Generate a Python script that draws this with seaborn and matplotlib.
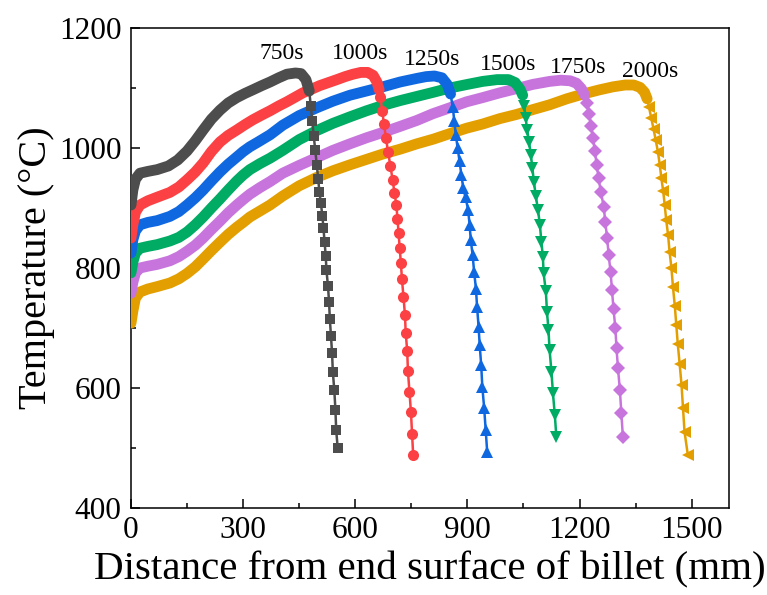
import matplotlib
matplotlib.use("Agg")
import matplotlib.pyplot as plt
import seaborn as sns
import pandas as pd
from matplotlib.ticker import MultipleLocator

# ---------------- data ----------------
times = ["750s", "1000s", "1250s", "1500s", "1750s", "2000s"]

# label anchor positions (distance mm, temperature C)
label_d = [404, 612, 805, 1008, 1195, 1388]
label_t = [1157, 1157, 1147, 1140, 1134, 1127]

# 750 s
heat_750_d = [0, 5, 12, 24, 45, 70, 100, 125, 150, 172, 193, 215, 238, 260, 283, 305, 326, 350,
              372, 395, 417, 440, 455, 468, 477]
heat_750_t = [905, 930, 948, 958, 961, 964, 970, 980, 995, 1012, 1030, 1048, 1063, 1075, 1084, 1091,
              1097, 1104, 1110, 1117, 1123, 1125, 1124, 1114, 1095]
drop_750_d = [481, 485, 489, 493, 497, 501, 504, 508, 512, 515, 518, 521, 523, 527, 530, 532,
              535, 538, 540, 544, 547, 549, 553]
drop_750_t = [1070, 1045, 1020, 996, 972, 948, 927, 908, 887, 866, 843, 820, 796, 770, 743, 715,
              687, 658, 627, 596, 563, 530, 500]

# 1000 s
heat_1000_d = [0, 5, 12, 24, 45, 70, 104, 128, 150, 172, 193, 215, 238, 260, 283, 305, 326, 350,
               372, 395, 417, 440, 460, 483, 505, 528, 551, 573, 594, 615, 633, 648, 658, 664]
heat_1000_t = [850, 872, 893, 905, 912, 918, 926, 935, 947, 960, 975, 994, 1010, 1021, 1030, 1039,
               1047, 1055, 1062, 1070, 1077, 1085, 1092, 1098, 1104, 1109, 1114, 1119, 1123, 1126,
               1126, 1121, 1110, 1097]
drop_1000_d = [667, 672, 677, 682, 688, 694, 700, 705, 710, 713, 716, 719, 722, 725, 729, 733,
               735, 739, 741, 745, 749, 752, 755]
drop_1000_t = [1085, 1062, 1040, 1017, 993, 970, 947, 925, 905, 882, 858, 833, 809, 781, 752, 722,
               692, 662, 628, 594, 560, 524, 488]

# 1250 s
heat_1250_d = [0, 5, 12, 24, 45, 70, 104, 128, 150, 172, 193, 215, 238, 260, 283, 300, 318, 340,
               372, 406, 450, 497, 540, 586, 630, 674, 720, 765, 790, 812, 832, 846, 855]
heat_1250_t = [825, 847, 862, 872, 876, 879, 886, 894, 905, 917, 930, 945, 960, 973, 985, 994, 1002,
               1010, 1022, 1038, 1054, 1067, 1078, 1088, 1095, 1102, 1110, 1116, 1119, 1120, 1117,
               1106, 1090]
drop_1250_d = [861, 865, 869, 874, 879, 884, 889, 895, 902, 906, 909, 914, 918, 923, 926, 930,
               933, 937, 940, 945, 949, 953]
drop_1250_t = [1068, 1045, 1022, 1000, 978, 955, 933, 918, 897, 872, 847, 822, 794, 765, 735, 702,
               671, 638, 602, 566, 530, 494]

# 1500 s
heat_1500_d = [0, 5, 12, 24, 45, 70, 104, 128, 150, 172, 193, 215, 238, 260, 283, 300, 318, 345,
               372, 406, 450, 497, 540, 586, 630, 674, 720, 765, 810, 853, 900, 941, 980, 1010,
               1028, 1041, 1048]
heat_1500_t = [792, 810, 825, 833, 836, 839, 845, 851, 860, 872, 885, 900, 915, 930, 945, 955, 964,
               974, 983, 996, 1014, 1029, 1041, 1052, 1062, 1071, 1079, 1086, 1093, 1100, 1106,
               1111, 1114, 1114, 1109, 1098, 1088]
drop_1500_d = [1052, 1056, 1060, 1065, 1070, 1074, 1078, 1083, 1089, 1094, 1098, 1102, 1104, 1110,
               1113, 1117, 1120, 1125, 1129, 1134, 1138]
drop_1500_t = [1070, 1050, 1030, 1010, 988, 966, 944, 920, 897, 872, 844, 819, 791, 761, 727, 697,
               663, 627, 591, 555, 519]

# 1750 s
heat_1750_d = [0, 5, 12, 24, 45, 70, 104, 128, 150, 172, 193, 215, 238, 260, 283, 300, 318, 345,
               372, 406, 450, 497, 540, 586, 630, 674, 720, 765, 807, 853, 898, 941, 987, 1032,
               1075, 1120, 1150, 1175, 1192, 1205, 1214]
heat_1750_t = [758, 776, 792, 800, 803, 806, 812, 819, 828, 838, 850, 864, 878, 892, 905, 914, 923,
               934, 944, 958, 971, 984, 996, 1007, 1017, 1026, 1036, 1046, 1057, 1067, 1077, 1084,
               1092, 1099, 1106, 1111, 1113, 1112, 1108, 1099, 1088]
drop_1750_d = [1220, 1226, 1231, 1236, 1241, 1246, 1251, 1257, 1265, 1269, 1274, 1278, 1283, 1287,
               1291, 1296, 1299, 1303, 1308, 1312, 1316]
drop_1750_t = [1075, 1056, 1037, 1017, 995, 972, 950, 927, 902, 876, 850, 822, 794, 763, 731, 700,
               666, 633, 597, 558, 519]

# 2000 s
heat_2000_d = [0, 5, 12, 24, 45, 70, 104, 128, 150, 172, 193, 215, 238, 260, 283, 300, 318, 345,
               372, 406, 450, 497, 540, 586, 630, 674, 720, 765, 810, 853, 898, 941, 987, 1032,
               1075, 1120, 1166, 1210, 1254, 1290, 1322, 1345, 1362, 1374, 1381]
heat_2000_t = [708, 728, 750, 760, 765, 769, 775, 782, 791, 802, 815, 829, 843, 856, 868, 876, 885,
               895, 905, 920, 937, 951, 962, 972, 981, 990, 998, 1007, 1015, 1024, 1033, 1040,
               1049, 1056, 1064, 1072, 1082, 1090, 1097, 1102, 1105, 1105, 1101, 1093, 1082]
drop_2000_d = [1386, 1392, 1398, 1404, 1410, 1415, 1419, 1424, 1428, 1432, 1437, 1441, 1446, 1450,
               1455, 1459, 1463, 1468, 1473, 1477, 1481, 1490]
drop_2000_t = [1068, 1050, 1032, 1013, 993, 971, 950, 928, 905, 880, 855, 827, 800, 769, 737, 705,
               673, 640, 605, 566, 527, 488]

# ---------------- styling ----------------
colors = ["#4d4d4d", "#fb4143", "#0f68e0", "#00ab64", "#c775dd", "#e39f00"]
markers = ["s", "o", "^", "v", "D", "<"]
msizes = [7, 8, 8.5, 8.5, 7, 8.5]

sns.set_style("ticks")
plt.rcParams["font.family"] = ["Liberation Serif", "DejaVu Serif"]
plt.rcParams["text.color"] = "black"
plt.rcParams["axes.labelcolor"] = "black"
plt.rcParams["xtick.color"] = "black"
plt.rcParams["ytick.color"] = "black"

fig = plt.figure(figsize=(7.67, 5.95), dpi=100)
ax = fig.add_axes([131 / 767, 1 - 508 / 595, (729 - 131) / 767, (508 - 28) / 595])

series = [
    (heat_750_d, heat_750_t, drop_750_d, drop_750_t),
    (heat_1000_d, heat_1000_t, drop_1000_d, drop_1000_t),
    (heat_1250_d, heat_1250_t, drop_1250_d, drop_1250_t),
    (heat_1500_d, heat_1500_t, drop_1500_d, drop_1500_t),
    (heat_1750_d, heat_1750_t, drop_1750_d, drop_1750_t),
    (heat_2000_d, heat_2000_t, drop_2000_d, drop_2000_t),
]

for i in reversed(range(len(series))):
    hd, ht, dd, dt = series[i]
    z = 10 + (len(series) - i) * 2
    heat = pd.DataFrame({"d": hd, "T": ht})
    sns.lineplot(data=heat, x="d", y="T", sort=False, estimator=None, color=colors[i],
                 lw=7.8, solid_capstyle="round", solid_joinstyle="round", ax=ax, zorder=z)
    drop = pd.DataFrame({"d": [hd[-1]] + dd, "T": [ht[-1]] + dt})
    sns.lineplot(data=drop, x="d", y="T", sort=False, estimator=None, color=colors[i],
                 lw=1.8, marker=markers[i], markersize=msizes[i], markeredgewidth=0,
                 markevery=list(range(1, len(drop))), ax=ax, zorder=z + 1)

for i, name in enumerate(times):
    ax.text(label_d[i], label_t[i], name, ha="center", va="center", fontsize=17,
            color="black", zorder=30)

ax.set_xlim(0, 1600)
ax.set_ylim(400, 1200)
ax.set_xticks([0, 300, 600, 900, 1200, 1500])
ax.set_yticks([400, 600, 800, 1000, 1200])
ax.xaxis.set_minor_locator(MultipleLocator(150))
ax.yaxis.set_minor_locator(MultipleLocator(100))
ax.tick_params(which="both", direction="in", top=False, right=False, width=1.1,
               colors="black", labelsize=22.5)
ax.tick_params(which="major", length=6.5)
ax.tick_params(which="minor", length=3.5)
ax.tick_params(axis="y", pad=7)
ax.tick_params(axis="x", pad=6)
for s in ax.spines.values():
    s.set_linewidth(1.1)
    s.set_color("black")
ax.grid(False)

ax.set_xlabel("Distance from end surface of billet (mm)", fontsize=29.5, labelpad=4,
              color="black")
ax.set_ylabel("Temperature (°C)", fontsize=29, labelpad=3, color="black")

fig.savefig("out.png", dpi=100)
